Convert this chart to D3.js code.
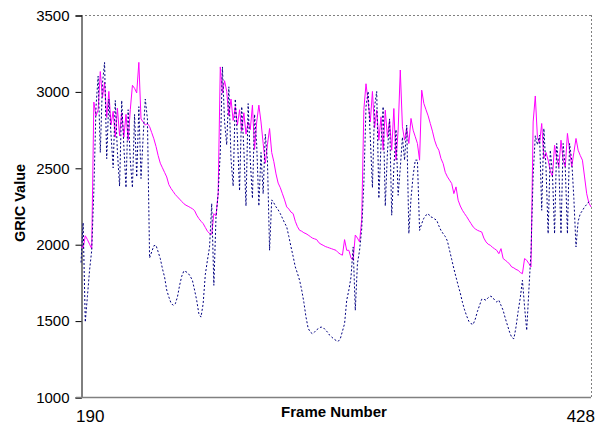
<!DOCTYPE html>
<html>
<head>
<meta charset="utf-8">
<script src="https://cdn.jsdelivr.net/npm/d3@7"></script>
<style>
  html, body { margin: 0; padding: 0; background: #fff; }
  #chart { width: 602px; height: 430px; }
</style>
</head>
<body>
<div id="chart"></div>
<script>
const FIRST_FRAME = 190;
const LAST_FRAME = 428;
const xTickLabels = ['190', '428'];
const yTicks = [1000, 1500, 2000, 2500, 3000, 3500];

// magenta, solid
const gricSolid = [
  1985,1975,2055,2030,2000,1970,2930,2840,2880,3130,
  2960,3060,2830,3000,2780,2870,2700,2890,2710,2860,
  2700,2850,2680,2880,3040,3020,2990,3190,2820,2800,
  2780,2790,2770,2730,2690,2640,2580,2530,2500,2470,
  2440,2390,2365,2345,2325,2310,2295,2280,2265,2255,
  2248,2240,2232,2220,2190,2168,2150,2135,2110,2085,
  2070,2065,2200,2185,2330,3160,2990,3070,3000,2840,
  2950,2810,2900,2780,2880,2740,2860,2720,2800,2750,
  2910,2620,2800,2910,2800,2660,2530,2650,2757,2600,
  2540,2460,2400,2370,2330,2290,2244,2230,2210,2200,
  2150,2115,2091,2085,2075,2069,2060,2050,2040,2035,
  2030,2010,2000,1993,1985,1980,1975,1970,1965,1960,
  1945,1935,1928,2030,1960,1960,1910,1895,2060,2040,
  2015,2160,2880,3050,2930,2800,3000,2760,2877,2681,
  2834,2615,2877,2700,2812,2615,2888,2550,2746,3140,
  2768,2681,2760,2659,2823,2746,2703,2659,2550,3008,
  2921,2880,2840,2790,2740,2681,2640,2615,2560,2528,
  2470,2441,2419,2397,2331,2375,2288,2250,2222,2200,
  2180,2157,2135,2113,2100,2091,2085,2080,2040,2015,
  2000,1993,1980,1970,1960,1938,1971,1906,1895,1884,
  1870,1851,1845,1835,1829,1815,1807,1906,1895,1873,
  1851,2800,2970,2700,2660,2790,2560,2600,2550,2480,
  2441,2648,2560,2506,2681,2550,2506,2725,2615,2506,
  2600,2692,2615,2580,2550,2440,2330,2270,2244
];

// navy, dotted
const gricDotted = [
  1880,2140,1490,1660,1830,1960,2350,2900,3100,2600,
  3050,3190,2560,2950,2720,2500,2940,2600,2380,2940,
  2640,2370,2880,2550,2370,2850,2440,2900,2430,2700,
  2950,2820,1910,1950,1990,1993,1950,1906,1840,1785,
  1700,1654,1615,1600,1610,1654,1730,1790,1825,1820,
  1810,1790,1763,1700,1632,1545,1523,1610,1800,1895,
  1982,2266,1731,2178,2330,2600,3160,2800,2650,3030,
  2560,2380,2950,2700,2350,2900,2620,2250,2920,2550,
  2300,2850,2650,2250,2600,2330,2720,2550,1960,2290,
  2270,2244,2225,2200,2170,2140,2113,2050,1982,1920,
  1851,1810,1764,1700,1620,1523,1450,1425,1414,1425,
  1440,1450,1458,1455,1440,1425,1405,1392,1380,1370,
  1364,1381,1430,1480,1633,1700,1785,1982,1567,1873,
  1960,2100,2400,2900,3000,2700,2370,2900,3000,2300,
  2650,2900,2250,2600,2820,2190,2500,2750,2320,2500,
  2700,2550,2780,2070,2300,2450,2550,2550,2090,2135,
  2170,2190,2200,2180,2175,2165,2157,2120,2090,2069,
  2050,2020,1960,1900,1840,1785,1730,1680,1620,1570,
  1530,1495,1480,1475,1510,1560,1600,1640,1640,1633,
  1650,1660,1654,1635,1622,1633,1600,1567,1515,1470,
  1425,1390,1381,1458,1560,1650,1764,1590,1436,1698,
  1950,2450,2710,2650,2714,2222,2757,2500,2069,2615,
  2463,2069,2659,2500,2069,2659,2500,2069,2659,2550,
  2300,1982,2150,2200,2220,2244,2260,2277,2288
];

document.addEventListener('DOMContentLoaded', () => {
  const width = 602, height = 430;
  const margin = { left: 81, right: 11, top: 15, bottom: 33 };
  const font = '"Liberation Sans", Arial, sans-serif';

  const frames = d3.range(FIRST_FRAME, LAST_FRAME + 1);

  const svg = d3.select('#chart').append('svg')
    .attr('width', width)
    .attr('height', height);

  const x = d3.scaleLinear()
    .domain([FIRST_FRAME, LAST_FRAME])
    .range([margin.left, width - margin.right]);

  const y = d3.scaleLinear()
    .domain([1000, 3500])
    .range([height - margin.bottom, margin.top]);

  // plot frame: dotted top + right, grey bottom
  svg.append('line')
    .attr('x1', x(FIRST_FRAME)).attr('x2', x(LAST_FRAME))
    .attr('y1', y(3500) + 0.5).attr('y2', y(3500) + 0.5)
    .attr('stroke', '#808080').attr('stroke-dasharray', '2,2');
  svg.append('line')
    .attr('x1', x(LAST_FRAME) + 0.5).attr('x2', x(LAST_FRAME) + 0.5)
    .attr('y1', y(3500)).attr('y2', y(1000))
    .attr('stroke', '#808080').attr('stroke-dasharray', '2,2');

  const yAxis = d3.axisLeft(y)
    .tickValues(yTicks)
    .tickSize(6)
    .tickPadding(6)
    .tickFormat(d3.format('d'));

  const gy = svg.append('g')
    .attr('transform', `translate(${margin.left + 0.5},0.5)`)
    .call(yAxis);
  gy.select('.domain').attr('stroke', '#000');
  gy.selectAll('.tick line').attr('stroke', '#000');
  gy.selectAll('.tick text')
    .style('font-family', font)
    .style('font-size', '15px')
    .attr('fill', '#000');

  svg.append('line')
    .attr('x1', x(FIRST_FRAME) - 5).attr('x2', x(LAST_FRAME))
    .attr('y1', y(1000) + 0.5).attr('y2', y(1000) + 0.5)
    .attr('stroke', '#808080').attr('stroke-width', 1.5);

  // only first and last frame are labelled
  svg.append('text')
    .attr('x', x(FIRST_FRAME) - 5)
    .attr('y', 422)
    .style('font-family', font).style('font-size', '17px')
    .text(xTickLabels[0]);
  svg.append('text')
    .attr('x', x(LAST_FRAME) + 4)
    .attr('y', 422)
    .attr('text-anchor', 'end')
    .style('font-family', font).style('font-size', '17px')
    .text(xTickLabels[1]);

  svg.append('text')
    .attr('x', 334).attr('y', 417)
    .attr('text-anchor', 'middle')
    .style('font-family', font).style('font-size', '15px').style('font-weight', '700')
    .text('Frame Number');

  svg.append('text')
    .attr('transform', 'translate(25,203) rotate(-90)')
    .attr('text-anchor', 'middle')
    .style('font-family', font).style('font-size', '14.5px').style('font-weight', '700')
    .text('GRIC Value');

  const line = d3.line()
    .x((d, i) => x(frames[i]))
    .y(d => y(d));

  svg.append('path')
    .datum(gricSolid)
    .attr('fill', 'none')
    .attr('stroke', '#ff00ff')
    .attr('stroke-width', 1)
    .attr('d', line);

  svg.append('path')
    .datum(gricDotted)
    .attr('fill', 'none')
    .attr('stroke', '#000080')
    .attr('stroke-width', 1)
    .attr('stroke-dasharray', '2,2')
    .attr('d', line);
});
</script>
</body>
</html>
